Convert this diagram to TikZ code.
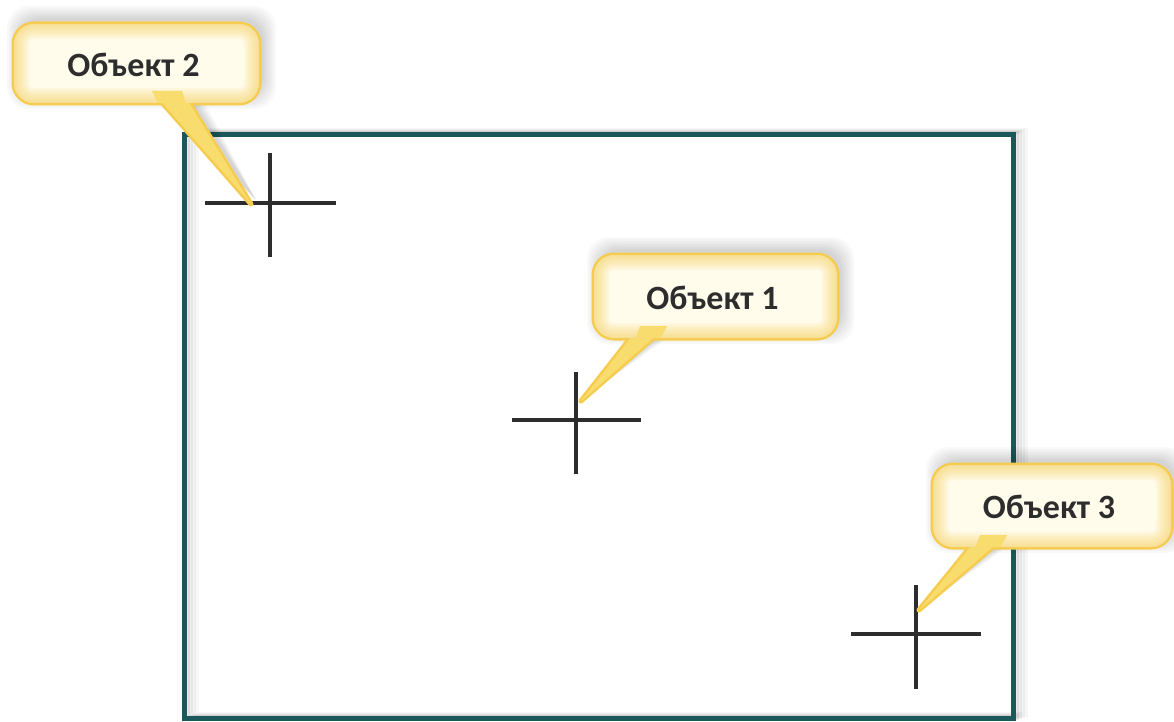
\documentclass[tikz,border=0pt]{standalone}
\usepackage{fontspec}
\setmainfont{Carlito}
\definecolor{framecol}{RGB}{28,88,90}
\definecolor{gold}{RGB}{246,204,78}
\definecolor{cream}{RGB}{255,252,236}
\definecolor{goldlight}{RGB}{249,220,110}
\definecolor{ink}{RGB}{45,45,45}
\tikzset{
  lbl/.style={font=\fontsize{34}{40}\selectfont\bfseries, text=ink, inner sep=0pt},
  crossline/.style={ink, line width=4pt},
  goldedge/.style={gold, line width=5pt, line join=round},
  framestyle/.style={framecol, line width=5pt},
}
% #1 name, #2 left, #3 top, #4 right, #5 bottom, #6 base left x, #7 base right x, #8 tip name, #9 text
\newcommand\mycallout[9]{%
  \foreach \s in {12,10,...,0}{%
    \fill[black,opacity=.025,rounded corners=22pt] (#2-\s+5,#3-\s-6) rectangle (#4+\s+5,#5+\s-6);
    \fill[black,opacity=.025] (#6-\s+5,#5-12) -- ($(#8)+(5,-4)$) -- (#7+\s+5,#5-12) -- cycle;
  }
  \draw[goldedge,rounded corners=20pt] (#2,#3) rectangle (#4,#5);
  \draw[goldedge] (#6,#5-12) -- (#8) -- (#7,#5-12) -- cycle;
  \fill[goldlight] (#6,#5-12) -- (#8) -- (#7,#5-12) -- cycle;
  \fill[cream,rounded corners=20pt] (#2,#3) rectangle (#4,#5);
  \begin{scope}
    \clip[rounded corners=20pt] (#2,#3) rectangle (#4,#5);
    \foreach \w in {30,26,...,2}{%
      \draw[gold,opacity=.09,line width=\w pt,rounded corners=20pt] (#2,#3) rectangle (#4,#5);
    }
    \fill[goldlight] (#6,#5-12) -- ($(#6,#5)!0.12!(#8)$) -- ($(#7,#5)!0.12!(#8)$) -- (#7,#5-12) -- cycle;
  \end{scope}
  \node[lbl] (#1) at ({(#2+#4)/2-3},{(#3+#5)/2+1}) {#9};
}
\usetikzlibrary{calc}
\begin{document}
\begin{tikzpicture}[x=1pt,y=-1pt]
  \useasboundingbox (0,0) rectangle (1174,722);
  \fill[white] (0,0) rectangle (1174,722);
  % frame with soft shadow
  \foreach \s/\o in {12/.03,9/.04,6/.06,3/.08}{%
    \draw[black,opacity=\o,line width=5pt] (184+\s,135-\s/3) rectangle (1013+\s,718-\s/3);
  }
  \draw[framestyle] (184,135) rectangle (1013,718);
  % crosses
  \coordinate (c2) at (270,203);
  \coordinate (c1) at (576,420);
  \coordinate (c3) at (916,634);
  \draw[crossline] (205,203) -- (336,203);
  \draw[crossline] (270,153) -- (270,257);
  \draw[crossline] (512,420) -- (641,420);
  \draw[crossline] (576,372) -- (576,474);
  \draw[crossline] (851,634) -- (981,634);
  \draw[crossline] (916,585) -- (916,689);
  % tips
  \coordinate (t2) at (251,204);
  \coordinate (t1) at (581,401);
  \coordinate (t3) at (919,610);
  \mycallout{o2}{14}{24}{259}{103}{152}{182}{t2}{Объект 2}
  \mycallout{o1}{594}{255}{837}{338}{640}{667}{t1}{Объект 1}
  \mycallout{o3}{933}{465}{1171}{547}{980}{1007}{t3}{Объект 3}
\end{tikzpicture}
\end{document}
